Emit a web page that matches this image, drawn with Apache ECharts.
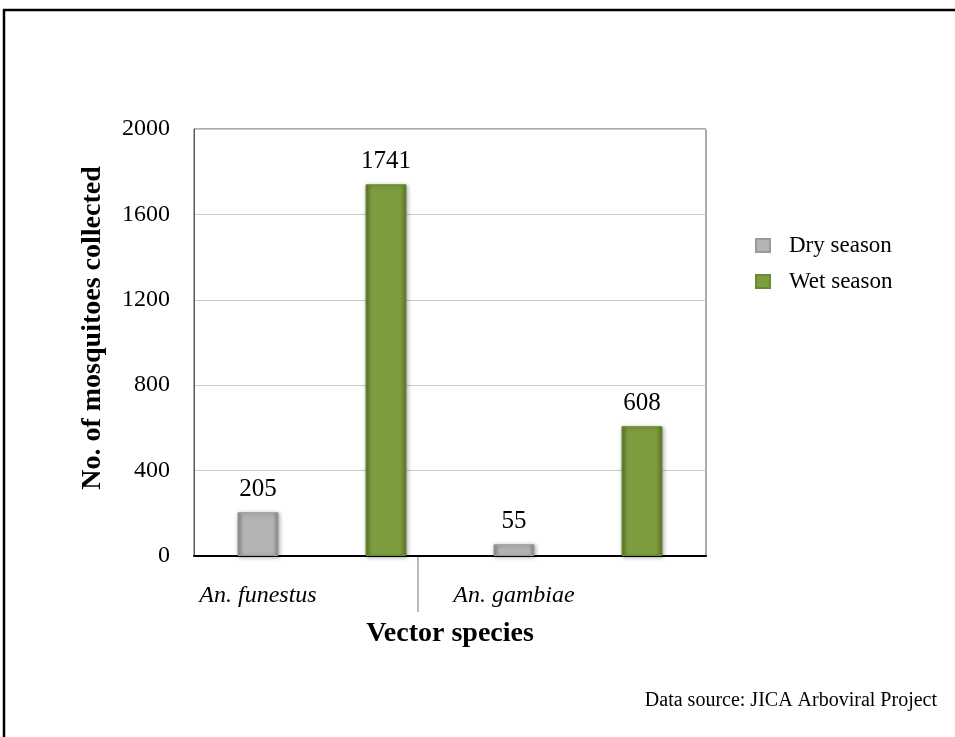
<!DOCTYPE html>
<html>
<head>
<meta charset="utf-8">
<script src="https://cdn.jsdelivr.net/npm/echarts@6/dist/echarts.min.js"></script>
<style>html,body{margin:0;padding:0;background:#fff;}#c{width:955px;height:737px;}</style>
</head>
<body>
<div id="c"></div>
<script>
const species = ['An. funestus', 'An. gambiae'];
const seasons = ['Dry season', 'Wet season'];
const dryValues = [205, 55];
const wetValues = [1741, 608];
const yTicks = [0, 400, 800, 1200, 1600, 2000];

// Each species occupies two slots: dry then wet
const slots = [];
const drySlot = [];
const wetSlot = [];
species.forEach((s, i) => {
  slots.push(s, '');
  drySlot.push(dryValues[i], null);
  wetSlot.push(null, wetValues[i]);
});

const serif = '"Liberation Serif", "Times New Roman", serif';
const grayGrad = new echarts.graphic.LinearGradient(0, 0, 1, 0, [
  {offset: 0, color: '#8a8a8a'}, {offset: 0.15, color: '#b4b4b4'},
  {offset: 0.85, color: '#b4b4b4'}, {offset: 1, color: '#8a8a8a'}]);
const greenGrad = new echarts.graphic.LinearGradient(0, 0, 1, 0, [
  {offset: 0, color: '#5c7629'}, {offset: 0.15, color: '#7d9c3e'},
  {offset: 0.85, color: '#7d9c3e'}, {offset: 1, color: '#5c7629'}]);

const chart = echarts.init(document.getElementById('c'), null, {renderer: 'canvas'});
chart.setOption({
  backgroundColor: '#fff',
  animation: false,
  grid: {left: 194, right: 249, top: 129, bottom: 181, show: true, borderColor: '#595959', borderWidth: 1},
  legend: {
    orient: 'vertical', left: 750, top: 229, itemGap: 13, itemWidth: 14, itemHeight: 13,
    icon: 'rect',
    data: seasons,
    textStyle: {fontFamily: serif, fontSize: 23, color: '#000', padding: [0, 0, 0, 14]}
  },
  xAxis: {
    type: 'category', data: slots,
    axisLine: {lineStyle: {color: '#000', width: 2}},
    axisTick: {show: false},
    axisLabel: {interval: 0, fontFamily: serif, fontStyle: 'italic', fontSize: 24, color: '#000', margin: 28},
    name: 'Vector species', nameLocation: 'middle', nameGap: 64,
    nameTextStyle: {fontFamily: serif, fontWeight: 'bold', fontSize: 28, color: '#000'}
  },
  yAxis: {
    type: 'value', min: yTicks[0], max: yTicks[yTicks.length - 1], interval: yTicks[1] - yTicks[0],
    axisLine: {show: true, lineStyle: {color: '#595959', width: 1}},
    axisTick: {show: false},
    splitLine: {lineStyle: {color: '#c8c8c8', width: 1}},
    axisLabel: {fontFamily: serif, fontSize: 24, color: '#000', margin: 24, formatter: v => String(v)}
  },
  series: [
    {
      name: seasons[0], type: 'bar', data: drySlot, barWidth: 41, barGap: '-100%',
      itemStyle: {color: grayGrad, borderColor: '#9a9a9a', borderWidth: 1, shadowColor: 'rgba(0,0,0,0.35)', shadowBlur: 4, shadowOffsetX: 1, shadowOffsetY: 1},
      label: {show: true, position: 'top', distance: 10, fontFamily: serif, fontSize: 25, color: '#000'}
    },
    {
      name: seasons[1], type: 'bar', data: wetSlot, barWidth: 41, barGap: '-100%',
      itemStyle: {color: greenGrad, borderColor: '#6b8a30', borderWidth: 1, shadowColor: 'rgba(0,0,0,0.35)', shadowBlur: 4, shadowOffsetX: 1, shadowOffsetY: 1},
      label: {show: true, position: 'top', distance: 10, fontFamily: serif, fontSize: 25, color: '#000'}
    }
  ],
  graphic: [
    {type: 'rect', shape: {x: 4, y: 10, width: 1000, height: 1000}, style: {fill: 'none', stroke: '#000', lineWidth: 2.5}, silent: true},
    {type: 'line', shape: {x1: 418, y1: 557, x2: 418, y2: 612}, style: {stroke: '#a6a6a6', lineWidth: 1.5}, silent: true},
    {type: 'text', x: 93, y: 328, rotation: Math.PI / 2,
      style: {text: 'No. of mosquitoes collected', fontFamily: serif, fontWeight: 'bold', fontSize: 28, fill: '#000', textAlign: 'center', textVerticalAlign: 'middle'}},
    {type: 'text', x: 937, y: 701,
      style: {text: 'Data source: JICA Arboviral Project', fontFamily: serif, fontSize: 20, fill: '#000', textAlign: 'right', textVerticalAlign: 'middle'}}
  ]
});
</script>
</body>
</html>
